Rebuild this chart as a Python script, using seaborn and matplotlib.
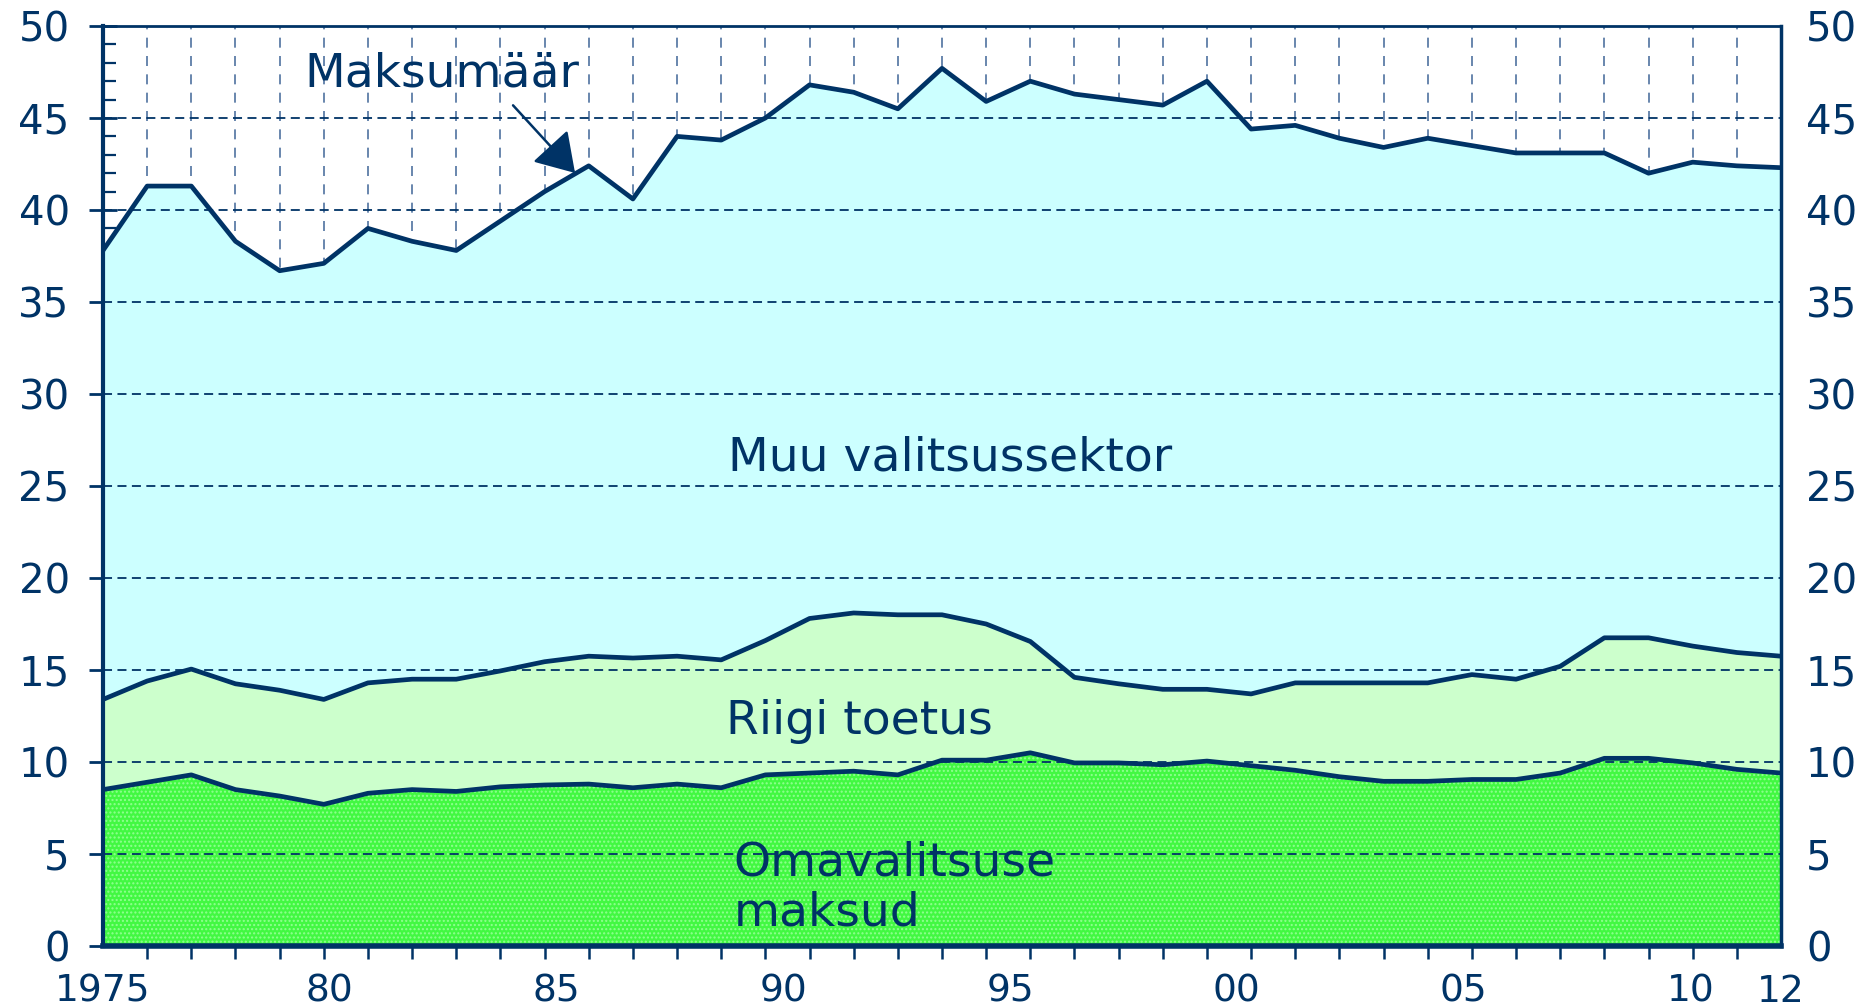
import numpy as np
import matplotlib
matplotlib.use('Agg')
import matplotlib.pyplot as plt
import seaborn as sns

# ---------------------------------------------------
# Andmed (loetud jooniselt), 39 punkti 1975 ... 2012
omavalitsuse_maksud = [8.5, 8.9, 9.3, 8.5, 8.15, 7.7, 8.3, 8.5, 8.4, 8.65, 8.75, 8.8, 8.6,
                       8.8, 8.6, 9.3, 9.4, 9.5, 9.3, 10.1, 10.1, 10.5, 9.95, 9.95, 9.85,
                       10.05, 9.8, 9.55, 9.2, 8.95, 8.95, 9.05, 9.05, 9.4, 10.2, 10.2,
                       9.95, 9.6, 9.4]
# omavalitsuse maksud + riigi toetus
riigi_toetus_tase = [13.4, 14.4, 15.05, 14.25, 13.9, 13.4, 14.3, 14.5, 14.5, 14.95, 15.45,
                     15.75, 15.65, 15.75, 15.55, 16.6, 17.8, 18.1, 18.0, 18.0, 17.5, 16.55,
                     14.6, 14.25, 13.95, 13.95, 13.7, 14.3, 14.3, 14.3, 14.3, 14.75, 14.5,
                     15.2, 16.75, 16.75, 16.3, 15.95, 15.75]
# kogu maksumäär
maksumaar = [37.8, 41.3, 41.3, 38.3, 36.7, 37.1, 39.0, 38.3, 37.8, 39.4, 41.0, 42.4, 40.6,
             44.0, 43.8, 45.0, 46.8, 46.4, 45.5, 47.7, 45.9, 47.0, 46.3, 46.0, 45.7, 47.0,
             44.4, 44.6, 43.9, 43.4, 43.9, 43.5, 43.1, 43.1, 43.1, 42.0, 42.6, 42.4, 42.3]

x_labels = ['1975', '80', '85', '90', '95', '00', '05', '10', '12']
x_label_years = [1975, 1980, 1985, 1990, 1995, 2000, 2005, 2010, 2012]
y_ticks = list(range(0, 51, 5))

# punktid on jaotatud ühtlaselt kogu telje pikkusele
x = np.linspace(1975, 2012, len(maksumaar))

navy = '#003366'
c_muu = '#ccffff'
c_riik = '#ccffcc'
c_oma = '#42f842'

# ---------------------------------------------------
sns.set_theme(style='ticks')
plt.rcParams['font.family'] = ['DejaVu Sans']
plt.rcParams['hatch.linewidth'] = 1.0

fig = plt.figure(figsize=(18.72, 10.08), dpi=100)
ax = fig.add_axes([103 / 1872, 1 - 946 / 1008, (1781 - 103) / 1872, (946 - 26) / 1008])

ax.fill_between(x, riigi_toetus_tase, maksumaar, facecolor=c_muu, linewidth=0, zorder=1)
ax.fill_between(x, omavalitsuse_maksud, riigi_toetus_tase, facecolor=c_riik, linewidth=0, zorder=1)
ax.fill_between(x, 0, omavalitsuse_maksud, facecolor=c_oma, edgecolor='#90ff90',
                hatch='....', linewidth=0, zorder=1)

# horisontaalsed abijooned täidete peal
for yv in y_ticks[1:-1]:
    ax.axhline(yv, color=navy, lw=1.3, ls=(0, (5, 3)), zorder=2)

for series in (omavalitsuse_maksud, riigi_toetus_tase, maksumaar):
    sns.lineplot(x=x, y=series, ax=ax, color=navy, lw=3.4, zorder=3)

ax.set_xlim(1975, 2012)
ax.set_ylim(0, 50)

# x-telg
ax.set_xticks(x_label_years)
ax.set_xticklabels(x_labels)
ax.set_xticks(x, minor=True)
ax.tick_params(axis='x', which='major', length=0, pad=20, labelsize=27, labelcolor=navy)
ax.tick_params(axis='x', which='minor', direction='inout', length=18, width=1.8, color=navy)
ax.grid(which='minor', axis='x', color='#4f72a0', lw=1.2, ls=(0, (6, 5)))
ax.grid(which='major', axis='x', visible=False)
ax.set_axisbelow(True)

# y-telg vasakul
ax.set_yticks(y_ticks)
ax.set_yticks(range(0, 51), minor=True)
ax.tick_params(axis='y', which='major', direction='inout', length=20, width=2, color=navy,
               labelsize=29, labelcolor=navy, pad=14)
ax.tick_params(axis='y', which='minor', direction='in', length=9, width=1.6, color=navy)

for side, w in (('top', 2), ('left', 3), ('right', 2.5), ('bottom', 4)):
    ax.spines[side].set_visible(True)
    ax.spines[side].set_color(navy)
    ax.spines[side].set_linewidth(w)

# y-telg paremal
ax2 = ax.twinx()
ax2.set_ylim(0, 50)
ax2.set_yticks(y_ticks)
ax2.tick_params(axis='y', length=0, labelsize=29, labelcolor=navy, pad=18)
for side in ('top', 'left', 'right', 'bottom'):
    ax2.spines[side].set_visible(False)

# sildid
ax.text(1979.45, 47.4, 'Maksumäär', fontsize=34, color=navy, va='center', ha='left', zorder=5)
ax.annotate('', xy=(1985.45, 41.9), xytext=(1984.0, 45.8),
            arrowprops=dict(arrowstyle='-|>,head_length=0.95,head_width=0.6',
                            color=navy, lw=1.8, mutation_scale=25), zorder=5)
ax.text(1988.78, 26.5, 'Muu valitsussektor', fontsize=34, color=navy, va='center', ha='left', zorder=5)
ax.text(1988.73, 12.2, 'Riigi toetus', fontsize=34, color=navy, va='center', ha='left', zorder=5)
ax.text(1988.9, 3.15, 'Omavalitsuse\nmaksud', fontsize=34, color=navy, va='center', ha='left',
        linespacing=1.15, zorder=5)

fig.savefig('out.png', dpi=100)
plt.close(fig)
